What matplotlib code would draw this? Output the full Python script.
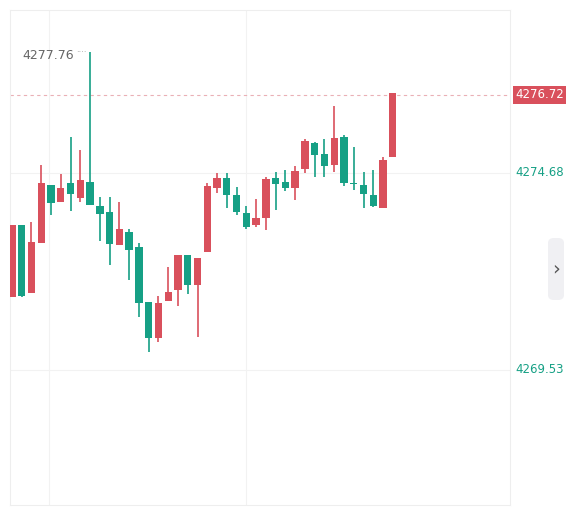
import matplotlib
matplotlib.use("Agg")
import matplotlib.pyplot as plt
from matplotlib.patches import FancyBboxPatch

def p(y):
    return round(4274.68 - (y - 173) * 0.02614, 2)

# pixel-read candles converted: (open, close, high, low)
opens_px  = [297,225,293,243,185,202,183,198,182,206,212,245,232,247,302,338,301,290,255,285,
             252,188,178,195,213,225,218,178,182,188,169,143,154,165,137,183,185,195,208,157]
closes_px = [225,296,242,183,203,188,194,180,205,214,244,229,250,303,338,303,292,255,285,258,
             186,178,195,212,227,218,179,184,188,171,141,155,166,138,183,184,194,206,160,93]
highs_px  = [225,225,222,165,185,174,137,150,52,197,197,202,229,243,302,296,267,255,255,258,
             183,173,173,187,206,199,177,172,170,166,139,142,139,106,135,147,172,170,157,93]
lows_px   = [297,297,293,243,215,202,211,202,205,241,265,245,280,317,352,342,301,306,294,337,
             252,193,208,215,229,227,230,210,191,200,173,177,177,172,186,190,208,207,208,157]
opens = [p(v) for v in opens_px]
closes = [p(v) for v in closes_px]
highs = [p(v) for v in highs_px]
lows = [p(v) for v in lows_px]
last_price = 4276.72
high_label = "4277.76"
ticks = [4274.68, 4269.53]

UP = "#d9505c"
DOWN = "#16a085"

fig = plt.figure(figsize=(5.78, 5.16), dpi=100)
ax = fig.add_axes([10/578, 11/516, 500/578, 495/516])
ax.set_xlim(-0.2, 51)
ax.set_ylim(4266.0, 4278.94)
for s in ax.spines.values():
    s.set_color("#eeeeee")
ax.set_xticks([]); ax.set_yticks([])
for yv in ticks:
    ax.axhline(yv, color="#f2f2f2", lw=0.8, zorder=0)
for xv in [3.8, 24.0]:
    ax.axvline(xv, color="#f2f2f2", lw=0.8, zorder=0)

for i, (o, c, h, l) in enumerate(zip(opens, closes, highs, lows)):
    col = UP if c >= o else DOWN
    ax.vlines(i, l, h, color=col, lw=1.2, zorder=2)
    lo, hi = min(o, c), max(o, c)
    ax.bar(i, max(hi - lo, 0.02), bottom=lo, width=0.75, color=col, zorder=3)

ax.axhline(last_price, color="#eab0b6", lw=0.8, ls=(0, (3, 3)), zorder=1)
ax.text(6.4, 4277.76, high_label, ha="right", va="center", fontsize=9, color="#666666")
ax.text(6.6, 4277.82, "····", ha="left", va="center", fontsize=6, color="#999999")

trans = ax.get_yaxis_transform()
ax.text(1.01, last_price, f"{last_price:.2f}", transform=trans, ha="left", va="center",
        fontsize=8.5, color="white", bbox=dict(boxstyle="square,pad=0.2", fc=UP, ec="none"), clip_on=False)
for t in ticks:
    ax.text(1.01, t, f"{t:.2f}", transform=trans, ha="left", va="center", fontsize=8.5, color=DOWN, clip_on=False)

tab = FancyBboxPatch((548/578, 216/516), 16/578, 62/516, boxstyle="round,pad=0,rounding_size=0.01",
                     transform=fig.transFigure, fc="#f0f0f3", ec="none")
fig.patches.append(tab)
fig.text(556/578, 247/516, "›", ha="center", va="center", fontsize=14, color="#555555")

fig.savefig("out.png", dpi=100, facecolor="white")
